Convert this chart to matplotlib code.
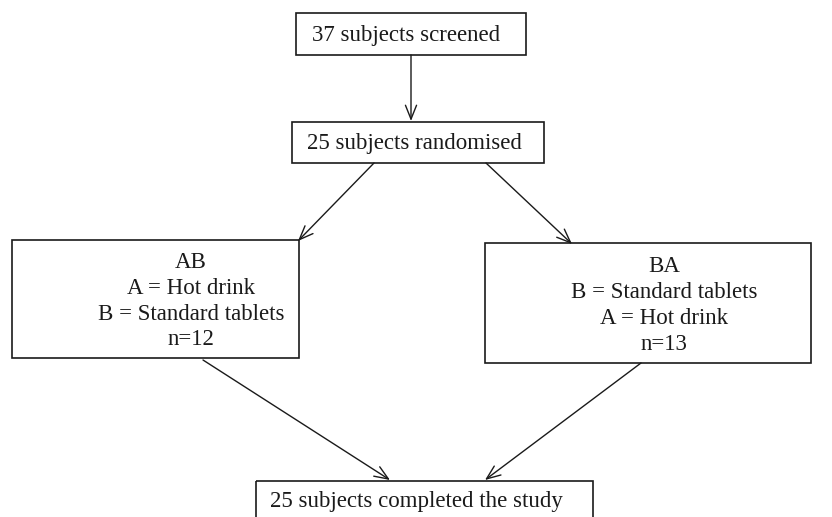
import matplotlib.pyplot as plt
from matplotlib.patches import Rectangle

plt.rcParams['font.family'] = ['Liberation Serif', 'DejaVu Serif']

# box texts, top to bottom
screened_text = "37 subjects screened"
randomised_text = "25 subjects randomised"
ab_lines = ["AB", "A = Hot drink", "B = Standard tablets", "n=12"]
ba_lines = ["BA", "B = Standard tablets", "A = Hot drink", "n=13"]
completed_text = "25 subjects completed the study"

W, H = 832, 517
fig = plt.figure(figsize=(W / 100, H / 100), dpi=100)
ax = fig.add_axes([0, 0, 1, 1])
ax.set_xlim(0, W)
ax.set_ylim(H, 0)
ax.axis('off')

FS = 16.5
INK = '#1a1a1a'


def box(x0, y0, x1, y1):
    ax.add_patch(Rectangle((x0, y0), x1 - x0, y1 - y0, fill=False,
                           edgecolor=INK, lw=1.2, clip_on=False))


def arrow(x0, y0, x1, y1):
    ax.annotate('', xy=(x1, y1), xytext=(x0, y0),
                arrowprops=dict(arrowstyle='->,head_length=1.0,head_width=0.4',
                                color=INK, lw=1.0,
                                shrinkA=0, shrinkB=0))


# screened
box(296, 13, 526, 55)
ax.text(406, 35, screened_text, ha='center', va='center', fontsize=FS, color=INK)
arrow(411, 55, 411, 121)

# randomised
box(292, 122, 544, 163)
ax.text(414, 143, randomised_text, ha='center', va='center', fontsize=FS, color=INK)
arrow(374, 163, 298, 241)
arrow(486, 163, 572, 244)

# AB arm
box(12, 240, 299, 358)
for i, line in enumerate(ab_lines):
    ax.text(191, 263 + i * 25.5, line, ha='center', va='center', fontsize=FS, color=INK)

# BA arm
box(485, 243, 811, 363)
for i, line in enumerate(ba_lines):
    ax.text(664, 266 + i * 26, line, ha='center', va='center', fontsize=FS, color=INK)

arrow(203, 360, 390, 480)
arrow(641, 363, 485, 480)

# completed (cut off at bottom of image)
box(256, 481, 593, 530)
ax.text(270, 502, completed_text, ha='left', va='center', fontsize=FS, color=INK)

fig.savefig('out.png', dpi=100, facecolor='white')
